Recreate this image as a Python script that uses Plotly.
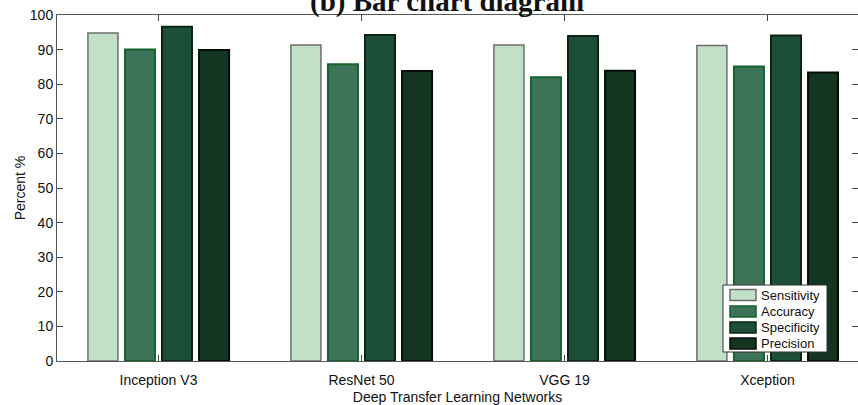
import plotly.graph_objects as go

# Networks compared and their scores (percent)
networks = ["Inception V3", "ResNet 50", "VGG 19", "Xception"]
sensitivity = [94.8, 91.3, 91.3, 91.2]
accuracy = [90.0, 85.8, 82.0, 85.1]
specificity = [96.6, 94.2, 93.9, 94.1]
precision = [89.9, 83.8, 83.9, 83.4]

series = [
    ("Sensitivity", sensitivity, "#c2dfc8", "#6e6e6e", 1.5),
    ("Accuracy", accuracy, "#3d7359", "#17632c", 2),
    ("Specificity", specificity, "#1d4e37", "#0c2416", 2),
    ("Precision", precision, "#133522", "#050d08", 2),
]

W, H = 858, 405
M_L, M_R, M_T, M_B = 57, 0, 15, 44
PW, PH = W - M_L - M_R, H - M_T - M_B


def px_x(px):
    return (px - M_L) / PW


def px_y(py):
    return (H - M_B - py) / PH


fig = go.Figure()
for name, vals, fill, edge, lw in series:
    fig.add_trace(go.Bar(
        name=name, x=networks, y=vals, showlegend=False,
        marker=dict(color=fill, line=dict(color=edge, width=lw)),
    ))

axis_font = dict(family="Liberation Sans, Arial, sans-serif", size=14, color="#111")

fig.update_layout(
    width=W, height=H,
    margin=dict(l=M_L, r=M_R, t=M_T, b=M_B),
    paper_bgcolor="white", plot_bgcolor="white",
    barmode="group", bargap=0.27, bargroupgap=0.19,
    font=axis_font,
    xaxis=dict(
        range=[-0.5, 3.446],
        showline=True, linecolor="#555", linewidth=1, mirror="ticks",
        ticks="inside", ticklen=6, tickcolor="#444",
        showgrid=False, zeroline=False, ticklabelstandoff=6,
        title=dict(text="Deep Transfer Learning Networks", standoff=6, font=axis_font),
        tickfont=axis_font,
    ),
    yaxis=dict(
        range=[0, 100], dtick=10,
        showline=True, linecolor="#555", linewidth=1, mirror="ticks",
        ticks="inside", ticklen=6, tickcolor="#444",
        showgrid=False, zeroline=False,
        title=dict(text="Percent %", standoff=0, font=axis_font),
        tickfont=axis_font,
    ),
)

# Legend box with wide colour swatches
box_l, box_r, box_t, box_b = 723, 827, 285, 352
fig.add_shape(type="rect", xref="paper", yref="paper",
              x0=px_x(box_l), x1=px_x(box_r), y0=px_y(box_b), y1=px_y(box_t),
              fillcolor="white", line=dict(color="#333", width=1), layer="above")
row_centers = [295, 311.5, 327.5, 343.5]
for (name, vals, fill, edge, lw), cy in zip(series, row_centers):
    fig.add_shape(type="rect", xref="paper", yref="paper",
                  x0=px_x(730), x1=px_x(756), y0=px_y(cy + 5.5), y1=px_y(cy - 5.5),
                  fillcolor=fill, line=dict(color=edge, width=1.5), layer="above")
    fig.add_annotation(text=name, xref="paper", yref="paper",
                       x=px_x(759), y=px_y(cy), xanchor="left", yanchor="middle",
                       showarrow=False,
                       font=dict(family="Liberation Sans, Arial, sans-serif", size=13, color="#111"))

fig.add_annotation(
    text="<b>(b) Bar chart diagram</b>",
    xref="paper", yref="paper", x=px_x(447), y=1.04,
    xanchor="center", yanchor="middle", showarrow=False,
    font=dict(family="Liberation Serif, Times New Roman, serif", size=29, color="#111"),
)

fig.write_html("out.html")
